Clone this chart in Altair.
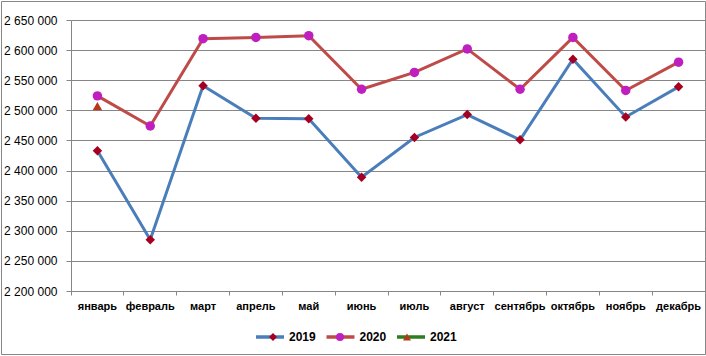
import altair as alt
import pandas as pd

months = ['январь', 'февраль', 'март', 'апрель', 'май', 'июнь',
          'июль', 'август', 'сентябрь', 'октябрь', 'ноябрь', 'декабрь']
years = ['2019', '2020', '2021']
v2019 = [2433000, 2285000, 2541000, 2487000, 2486000, 2389000,
         2455000, 2493000, 2451000, 2585000, 2489000, 2539000]
v2020 = [2524000, 2474000, 2619000, 2621000, 2624000, 2535000,
         2563000, 2602000, 2535000, 2621000, 2533000, 2580000]
v2021 = [2507000]
y_ticks = list(range(2200000, 2650001, 50000))

rows = []
for yr, vals in zip(years, [v2019, v2020, v2021]):
    for m, v in zip(months, vals):
        rows.append({'month': m, 'year': yr, 'yr': 'm' + yr, 'value': v})
df = pd.DataFrame(rows)
marker_keys = ['m' + y for y in years]

line_colors = ['#4A7EBB', '#BE4B48', '#2E7D1E']
marker_colors = ['#A50021', '#BF1FBF', '#B8361A']
marker_shapes = ['diamond', 'circle', 'triangle-up']

W, H = 634, 271

x_enc = alt.X('month:N', sort=months, title=None,
              scale=alt.Scale(type='band', paddingInner=0, paddingOuter=0),
              axis=alt.Axis(bandPosition=0, grid=False,
                            labelFont='Liberation Sans', labelFontSize=11,
                            labelFontWeight='bold', labelColor='#000000',
                            labelAngle=0, tickSize=4, labelPadding=5,
                            domainColor='#868686', tickColor='#868686'))
y_enc = alt.Y('value:Q', title=None,
              scale=alt.Scale(domain=[2200000, 2650000], zero=False, nice=False),
              axis=alt.Axis(values=y_ticks,
                            labelExpr="replace(replace(format(datum.value, ','), ',', ' '), ',', ' ')",
                            labelFont='Liberation Sans', labelFontSize=12,
                            labelColor='#000000', tickSize=5, labelPadding=9,
                            gridColor='#868686', domainColor='#868686',
                            tickColor='#868686'))

frame = alt.Chart(pd.DataFrame({'a': [0]})).mark_rect(
    fillOpacity=0, stroke='#878787', strokeWidth=1, clip=False
).encode(x=alt.value(-69.5), x2=alt.value(634.5), y=alt.value(-18.5), y2=alt.value(334.5))

lines = alt.Chart(df).mark_line(strokeWidth=3).encode(
    x=x_enc, y=y_enc,
    color=alt.Color('year:N', scale=alt.Scale(domain=years, range=line_colors),
                    legend=alt.Legend(title=None, orient='none', legendX=183, legendY=301,
                                      direction='horizontal', symbolType='stroke',
                                      symbolSize=784, symbolStrokeWidth=3.5,
                                      labelFont='Liberation Sans', labelFontSize=12,
                                      labelFontWeight='bold', labelColor='#000000',
                                      labelOffset=3, columnPadding=3.5)),
    order='month_idx:Q'
).transform_calculate(month_idx="indexof(%s, datum.month)" % str(months))

marker_legend = alt.Legend(title=None, orient='none', legendX=196, legendY=311,
                           direction='horizontal', symbolSize=64,
                           symbolStrokeWidth=0, labelOpacity=0,
                           labelExpr="substring(datum.label, 1)",
                           labelFont='Liberation Sans', labelFontSize=12,
                           labelFontWeight='bold', labelOffset=13,
                           columnPadding=15)

points = alt.Chart(df).mark_point(filled=True, size=90, opacity=1).encode(
    x=x_enc, y=y_enc,
    shape=alt.Shape('yr:N', scale=alt.Scale(domain=marker_keys, range=marker_shapes),
                    legend=marker_legend),
    fill=alt.Fill('yr:N', scale=alt.Scale(domain=marker_keys, range=marker_colors),
                  legend=marker_legend)
)

chart = alt.layer(frame, lines, points).properties(
    width=W, height=H,
    autosize=alt.AutoSizeParams(type='none'),
    padding={'left': 71, 'top': 20, 'right': 1, 'bottom': 65},
    background='#ffffff'
).configure_view(strokeWidth=0)

chart.save("out.html", embed_options={"renderer": "svg", "actions": False})
